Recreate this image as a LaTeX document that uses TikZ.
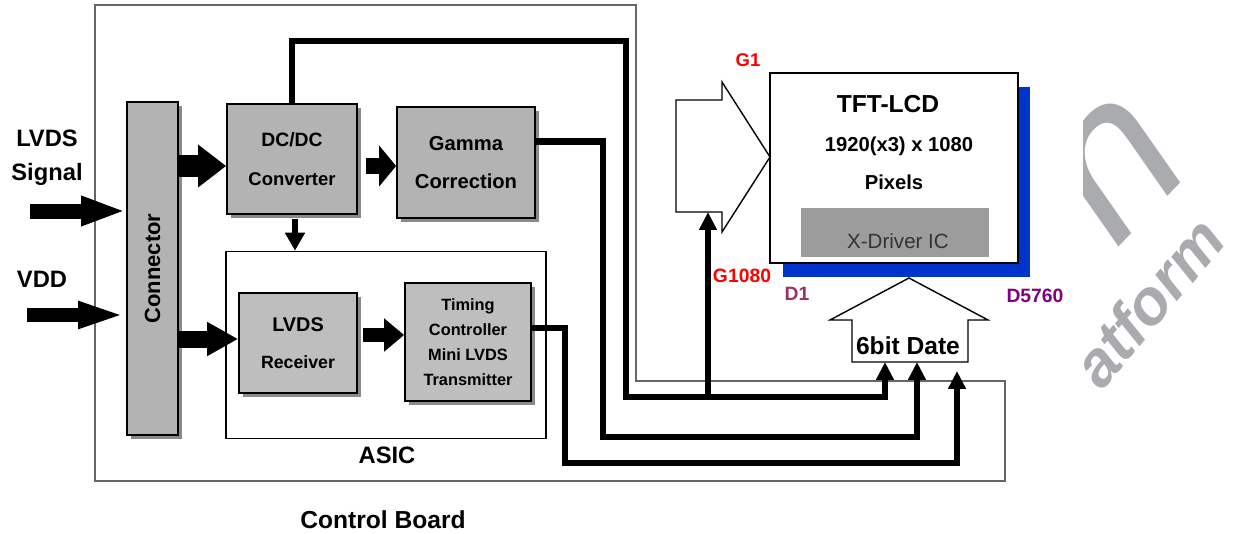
\documentclass[tikz,border=0pt]{standalone}
\usepackage{fontspec}
\setmainfont{Liberation Sans}
\usetikzlibrary{arrows.meta,calc,shadows}

\definecolor{boxgray}{HTML}{B3B3B3}
\definecolor{asicgray}{HTML}{BEBEBE}
\definecolor{shadowgray}{HTML}{8A8A8A}
\definecolor{drivergray}{HTML}{9C9C9C}
\definecolor{lcdblue}{HTML}{0033CC}
\definecolor{gatered}{HTML}{FF0000}
\definecolor{dataplum}{HTML}{993366}
\definecolor{datapurple}{HTML}{800080}
\definecolor{markgray}{HTML}{A9ABAE}

\newcommand{\fsz}[2]{\fontsize{#1}{#2}\selectfont}

\begin{document}
\begin{tikzpicture}[x=0.02cm,y=-0.02cm]
\tikzset{
  blockbox/.style={draw,line width=1pt,fill=boxgray,align=center,inner sep=0pt,font=\bfseries,
    drop shadow={shadow xshift=0.08cm,shadow yshift=-0.08cm,fill=shadowgray,opacity=1}},
  framebox/.style={draw,line width=0.9pt,fill=white,inner sep=0pt},
  txt/.style={inner sep=0pt,font=\bfseries},
  fatarrow/.style n args={3}{line width=#1,-{Triangle[length=#2,width=#3]}},
  bus/.style={line width=3.8pt,-{Triangle[length=0.36cm,width=0.34cm]}},
  hollowarrow/.style={draw,fill=white,line width=0.8pt},
  boardline/.style={draw=black!60,line width=0.9pt}
}
\useasboundingbox (0,0) rectangle (1235,534);

% control board outline
\draw[boardline] (95,5) -- (636,5) -- (636,381) -- (1005,381) -- (1005,481) -- (95,481) -- cycle;

% watermark
\begin{scope}
  \clip (1083,0) rectangle (1235,534);
  \node[txt,text=markgray,font=\itshape\fsz{120}{120},rotate=46,anchor=base west] (n_mark_n) at (1116,250) {n};
  \node[txt,text=markgray,font=\bfseries\itshape\fsz{36}{36},rotate=50,anchor=base west] (n_mark_at) at (1102,392) {atform};
\end{scope}

% board blocks
\node[blockbox,minimum width=1.02cm,minimum height=6.66cm] (n_conn) at (152.5,268.5) {\fsz{12.5}{15}\rotatebox{90}{Connector}};
\node[blockbox,minimum width=2.6cm,minimum height=2.2cm,font=\bfseries\fsz{11}{22}] (n_dcdc) at (292,159) {DC/DC\\{\fsz{10.5}{22}Converter}};
\node[blockbox,minimum width=2.76cm,minimum height=2.22cm,font=\bfseries\fsz{11.5}{21.5}] (n_gamma) at (466,162.5) {Gamma\\Correction};
\node[framebox,minimum width=6.4cm,minimum height=3.74cm] (n_asic) at (386,345) {};
\node[blockbox,fill=asicgray,minimum width=2.36cm,minimum height=2cm,font=\bfseries\fsz{11.3}{21}] (n_rx) at (298,343) {LVDS\\{\fsz{10.1}{21}Receiver}};
\node[blockbox,fill=asicgray,minimum width=2.52cm,minimum height=2.36cm,font=\bfseries\fsz{9.3}{14.2}] (n_tcon) at (468,342) {Timing\\Controller\\Mini LVDS\\Transmitter};

\node[txt,align=center,font=\bfseries\fsz{13.5}{19.5}] (n_lvds_lbl) at (47,158) {LVDS\\Signal};
\node[txt,font=\bfseries\fsz{13.5}{16}] (n_vdd_lbl) at (42,279) {VDD};
\node[txt,font=\bfseries\fsz{13.5}{16}] (n_asic_lbl) at (387,455) {ASIC};
\node[txt,font=\bfseries\fsz{14}{16}] (n_board_lbl) at (383,520) {Control Board};

% panel
\node[draw,line width=1.1pt,fill=white,minimum width=4.96cm,minimum height=3.8cm,inner sep=0pt,
  drop shadow={shadow xshift=0.25cm,shadow yshift=-0.28cm,fill=lcdblue,opacity=1}] (n_tft) at (894,168) {};
\node[txt,font=\bfseries\fsz{14}{16}] (n_tft_title) at (888,104) {TFT-LCD};
\node[txt,font=\bfseries\fsz{11.5}{14}] (n_tft_res) at (899,146) {1920(x3) x 1080};
\node[txt,font=\bfseries\fsz{11.5}{14}] (n_tft_pix) at (894,182) {Pixels};
\node[fill=drivergray,minimum width=3.76cm,minimum height=0.98cm,inner sep=0pt] (n_xdrv) at (895,232.5) {};
\node[txt,text=black!80,font=\fsz{11.7}{14}] (n_xdrv_txt) at (898,241) {X-Driver IC};

\node[txt,text=gatered,font=\bfseries\fsz{10.5}{13}] (n_g1) at (748,60) {G1};
\node[txt,text=gatered,font=\bfseries\fsz{11}{13}] (n_g1080) at (742,276) {G1080};
\node[txt,text=dataplum,font=\bfseries\fsz{11}{13}] (n_d1) at (797,294) {D1};
\node[txt,text=datapurple,font=\bfseries\fsz{11}{13}] (n_d5760) at (1035,296) {D5760};

% gate and data inputs
\draw[hollowarrow] (676,100) -- (722,100) -- (722,82) -- (770,157) -- (722,232) -- (722,212) -- (676,212) -- cycle;
\draw[hollowarrow] (852,362) -- (852,320) -- (830,320) -- (909,278) -- (988,320) -- (968,320) -- (968,362) -- cycle;
\node[txt,font=\bfseries\fsz{14}{16}] (n_data_txt) at (908,346) {6bit Date};

\coordinate (c_lvds) at (30,211);
\coordinate (c_vdd) at (27,315);
\coordinate (c_gate) at (708,212);
\coordinate (c_gate_tap) at (708,397);
\coordinate (c_d1) at (885,362);
\coordinate (c_d2) at (917,362);
\coordinate (c_d3) at (957,371);

% block arrows
\draw[fatarrow={0.3cm}{0.9cm}{0.54cm}] (c_lvds) -- (c_lvds -| n_conn.west);
\draw[fatarrow={0.28cm}{0.96cm}{0.48cm}] (c_vdd) -- (c_vdd -| n_conn.west);
\draw[fatarrow={0.44cm}{0.56cm}{0.82cm}] ($(n_conn.east |- n_dcdc.west)+(0,7)$) -- ($(n_dcdc.west)+(0,7)$);
\draw[fatarrow={0.32cm}{0.34cm}{0.8cm}] ($(n_dcdc.east)+(8,7)$) -- ($(n_gamma.west |- n_dcdc.east)+(0,7)$);
\draw[fatarrow={0.34cm}{0.62cm}{0.64cm}] ($(n_conn.east |- n_rx.west)+(0,-4)$) -- ($(n_rx.west)+(0,-4)$);
\draw[fatarrow={0.28cm}{0.4cm}{0.64cm}] ($(n_rx.east)+(5,-8)$) -- ($(n_tcon.west |- n_rx.east)+(0,-8)$);
\draw[line width=3.4pt,-{Triangle[length=0.36cm,width=0.38cm]}] ($(n_dcdc.south)+(3,4)$) -- ($(n_dcdc.south |- n_asic.north)+(3,0)$);

% buses to the panel
\draw[bus] (n_dcdc.north) |- (626,41) |- (c_gate_tap) -| (c_d1);
\draw[bus] (c_gate_tap) -- (c_gate);
\draw[bus] ($(n_gamma.east)+(0,-21)$) -| (603,437) -| (c_d2);
\draw[bus] ($(n_tcon.east)+(0,-14)$) -| (565,463) -| (c_d3);
\end{tikzpicture}
\end{document}
